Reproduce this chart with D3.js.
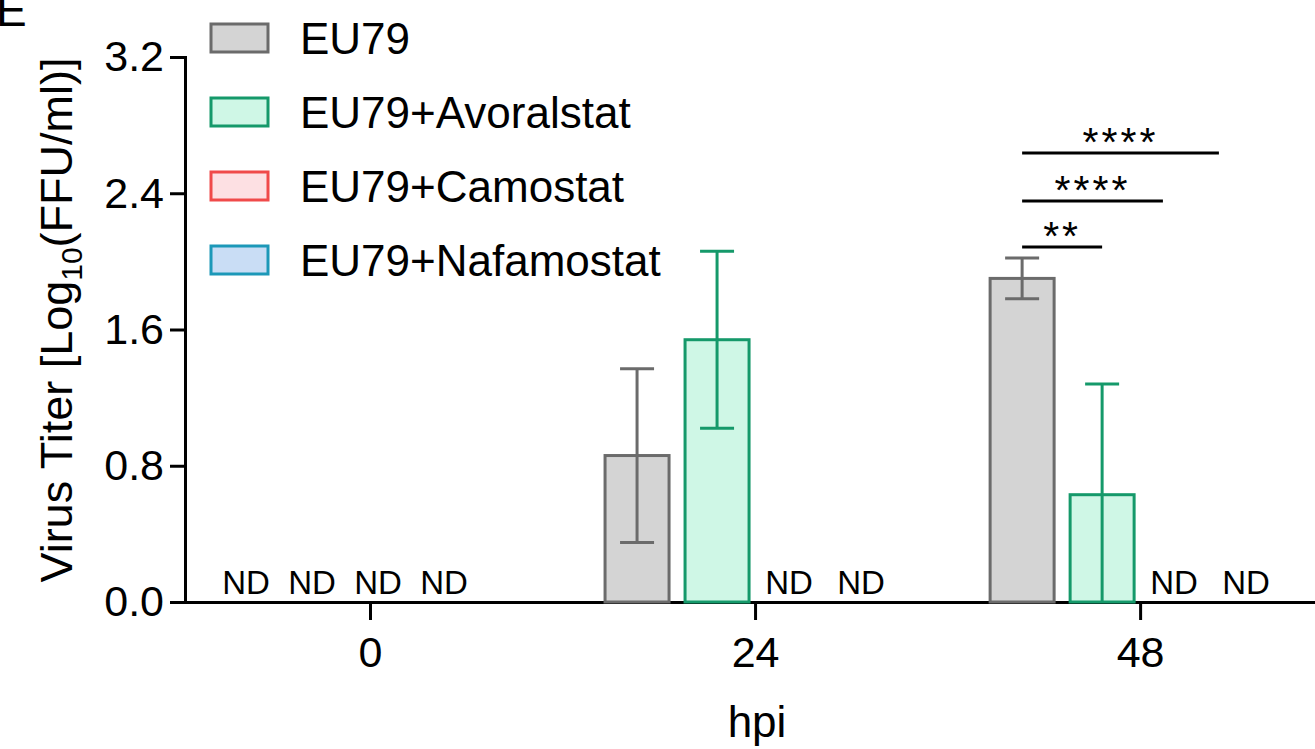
<!DOCTYPE html>
<html>
<head>
  <meta charset="UTF-8">
  <title>Virus titer</title>
  <style>
    body { margin: 0; background: #fff; }
    svg { display: block; font-family: "Liberation Sans", Arial, sans-serif; }
    .axis path, .axis line { stroke: #000; stroke-width: 3; }
    .axis text { font-size: 43px; fill: #000; }
  </style>
</head>
<body>
<svg></svg>
<script src="https://d3js.org/d3.v7.min.js"></script>
<script>

let width = 1315, height = 749;

// data (hpi groups, one value per treatment, null = ND)
var hpi = [0, 24, 48];
var series = ["EU79", "EU79+Avoralstat", "EU79+Camostat", "EU79+Nafamostat"];
var means = [
  [null, 0.86, 1.90],
  [null, 1.54, 0.63],
  [null, null, null],
  [null, null, null]
];
var sds = [
  [null, 0.51, 0.12],
  [null, 0.52, 0.65],
  [null, null, null],
  [null, null, null]
];
var strokes = ["#6b6b6b", "#15996a", "#f04a4a", "#1c98b8"];
var fills = ["#d4d4d4", "#cff7e6", "#fde0e3", "#c9ddf5"];
var yTicks = [0, 0.8, 1.6, 2.4, 3.2];

// significance brackets at 48 hpi: from slot, to slot, height, label
var sigFrom = [0, 0, 0];
var sigTo = [1, 1.76, 2.46];
var sigY = [2.085, 2.355, 2.637];
var sigLabel = ["**", "****", "****"];

let svg = d3.select("svg")
    .attr("width", width)
    .attr("height", height);

var y = d3.scaleLinear().domain([0, 3.2]).range([602, 57]);
var x = d3.scaleLinear().domain([-11.53, 58.9]).range([185, 1315]);
var slotW = 80, barW = 64;
function slotX(g, i) { return x(hpi[g]) + (i - 1.5) * slotW + 2; }

// y axis
svg.append("g")
    .attr("class", "axis")
    .attr("transform", "translate(185,0)")
    .call(d3.axisLeft(y).tickValues(yTicks).tickFormat(d3.format(".1f"))
        .tickSize(15).tickSizeOuter(0).tickPadding(6));

// x axis
svg.append("g")
    .attr("class", "axis")
    .attr("transform", "translate(0,602)")
    .call(d3.axisBottom(x).tickValues(hpi).tickSize(18).tickSizeOuter(0).tickPadding(16));

svg.selectAll(".axis .domain").attr("stroke-linecap", "square");

// bars
for (let s = 0; s < series.length; s++) {
  for (let g = 0; g < hpi.length; g++) {
    let m = means[s][g];
    let cx = slotX(g, s);
    if (m == null) {
      // ND label; a group with no bars at all is packed tighter
      let allND = means.every(row => row[g] == null);
      let lx = allND ? x(hpi[g]) + (s - 2) * 66 + 8 : cx - (s - 2) * 8 - 8;
      svg.append("text")
          .attr("x", lx)
          .attr("y", 594)
          .attr("text-anchor", "middle")
          .style("font-size", "33px")
          .text("ND");
      continue;
    }
    svg.append("rect")
        .attr("x", cx - barW / 2)
        .attr("y", y(m))
        .attr("width", barW)
        .attr("height", y(0) - y(m))
        .attr("fill", fills[s])
        .attr("stroke", strokes[s])
        .attr("stroke-width", 3);
    let sd = sds[s][g];
    let lo = Math.max(0, m - sd), hi = m + sd;
    let eb = svg.append("g").attr("stroke", strokes[s]).attr("stroke-width", 3);
    eb.append("line").attr("x1", cx).attr("x2", cx).attr("y1", y(lo)).attr("y2", y(hi));
    eb.append("line").attr("x1", cx - 17).attr("x2", cx + 17).attr("y1", y(hi)).attr("y2", y(hi));
    if (lo > 0)
      eb.append("line").attr("x1", cx - 17).attr("x2", cx + 17).attr("y1", y(lo)).attr("y2", y(lo));
  }
}

// significance lines
for (let k = 0; k < sigLabel.length; k++) {
  let x1 = slotX(2, sigFrom[k]), x2 = slotX(2, sigTo[k]);
  svg.append("line")
      .attr("x1", x1).attr("x2", x2)
      .attr("y1", y(sigY[k])).attr("y2", y(sigY[k]))
      .attr("stroke", "#000").attr("stroke-width", 3);
  svg.append("text")
      .attr("x", (x1 + x2) / 2)
      .attr("y", y(sigY[k]) + 3)
      .attr("text-anchor", "middle")
      .style("font-size", "41px")
      .style("letter-spacing", "3px")
      .text(sigLabel[k]);
}

// legend
var legend = svg.append("g").attr("transform", "translate(211,24)");
series.forEach(function (name, i) {
  let row = legend.append("g").attr("transform", "translate(0," + i * 74 + ")");
  row.append("rect")
      .attr("width", 57).attr("height", 28)
      .attr("fill", fills[i]).attr("stroke", strokes[i]).attr("stroke-width", 3);
  row.append("text")
      .attr("x", 89).attr("y", 30)
      .style("font-size", "44px")
      .text(name);
});

// axis titles
svg.append("text")
    .attr("transform", "translate(72,320) rotate(-90)")
    .attr("text-anchor", "middle")
    .style("font-size", "45px")
    .html('Virus Titer [Log<tspan dy="10" font-size="30px">10</tspan><tspan dy="-10">(FFU/ml)]</tspan>');

svg.append("text")
    .attr("x", 757).attr("y", 737)
    .attr("text-anchor", "middle")
    .style("font-size", "44px")
    .text("hpi");

// panel letter, cut off at the top like the source
svg.append("text")
    .attr("x", -4).attr("y", 26)
    .style("font-size", "46px")
    .text("E");

</script>
</body>
</html>
